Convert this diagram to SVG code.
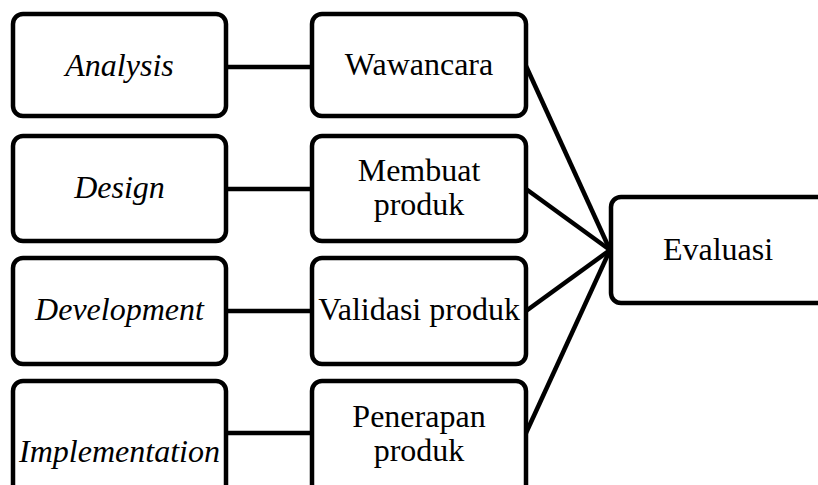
<svg xmlns="http://www.w3.org/2000/svg" width="818" height="485" viewBox="0 0 818 485">
  <style>
    .box { fill: #ffffff; stroke: #000000; stroke-width: 4.5; }
    .link { stroke: #000000; stroke-width: 4.5; fill: none; }
    .lbl { font-family: "Liberation Serif", "Times New Roman", serif; font-size: 32px; fill: #000000; text-anchor: middle; }
    .it { font-style: italic; }
  </style>
  <rect width="818" height="485" fill="#ffffff"/>

  <g id="connectors">
    <line class="link" x1="226" y1="67" x2="312" y2="67"/>
    <line class="link" x1="226" y1="189" x2="312" y2="189"/>
    <line class="link" x1="226" y1="311" x2="312" y2="311"/>
    <line class="link" x1="226" y1="433" x2="312" y2="433"/>
    <line class="link" x1="526" y1="66" x2="610" y2="250"/>
    <line class="link" x1="526" y1="189" x2="610" y2="250"/>
    <line class="link" x1="526" y1="311" x2="610" y2="250"/>
    <line class="link" x1="526" y1="433" x2="610" y2="250"/>
  </g>

  <g id="analysis">
    <rect class="box" x="13" y="14" width="213" height="102" rx="10"/>
    <text class="lbl it" x="119.5" y="76">Analysis</text>
  </g>
  <g id="design">
    <rect class="box" x="13" y="136" width="213" height="105" rx="10"/>
    <text class="lbl it" x="119.5" y="198">Design</text>
  </g>
  <g id="development">
    <rect class="box" x="13" y="258" width="213" height="106" rx="10"/>
    <text class="lbl it" x="119.5" y="320">Development</text>
  </g>
  <g id="implementation">
    <rect class="box" x="13" y="381" width="213" height="120" rx="10"/>
    <text class="lbl it" x="119.5" y="462">Implementation</text>
  </g>

  <g id="wawancara">
    <rect class="box" x="312" y="14" width="214" height="102" rx="10"/>
    <text class="lbl" x="419" y="75">Wawancara</text>
  </g>
  <g id="membuat-produk">
    <rect class="box" x="312" y="136" width="214" height="105" rx="10"/>
    <text class="lbl" x="419" y="181">Membuat</text>
    <text class="lbl" x="419" y="215">produk</text>
  </g>
  <g id="validasi-produk">
    <rect class="box" x="312" y="258" width="214" height="106" rx="10"/>
    <text class="lbl" x="419" y="320">Validasi produk</text>
  </g>
  <g id="penerapan-produk">
    <rect class="box" x="312" y="381" width="214" height="120" rx="10"/>
    <text class="lbl" x="419" y="427">Penerapan</text>
    <text class="lbl" x="419" y="461">produk</text>
  </g>

  <g id="evaluasi">
    <rect class="box" x="611" y="197" width="230" height="106" rx="10"/>
    <text class="lbl" x="718" y="260">Evaluasi</text>
  </g>
</svg>
